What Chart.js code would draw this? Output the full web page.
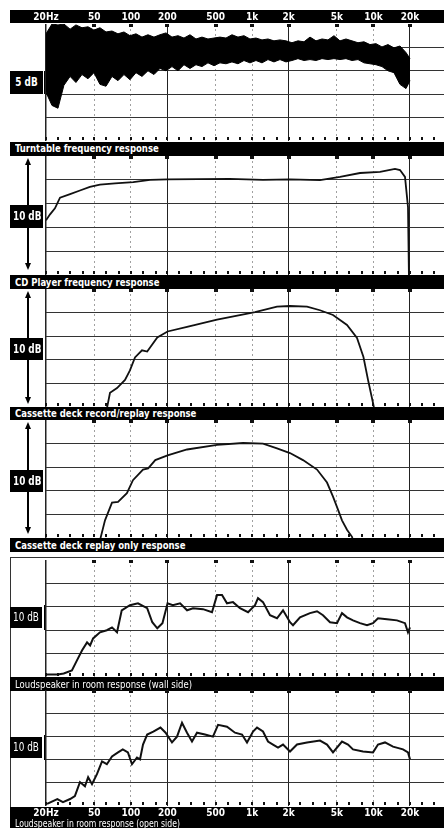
<!DOCTYPE html>
<html>
<head>
<meta charset="utf-8">
<script src="https://cdn.jsdelivr.net/npm/chart.js@4/dist/chart.umd.min.js"></script>
<style>
body { margin: 0; background: #fff; width: 444px; height: 828px; position: relative; overflow: hidden;
  font-family: "Liberation Sans Narrow", "DejaVu Sans Condensed", "DejaVu Sans", sans-serif; }
canvas { position: absolute; left: 0; z-index: 1; }
.bar { position: absolute; left: 10px; width: 434px; background: #000; z-index: 0; }
.cap { position: absolute; left: 15px; color: #fff; font-weight: bold; font-size: 11px; line-height: 13px; white-space: nowrap;
  z-index: 2; transform: scaleX(0.86); transform-origin: 0 0; }
.db { position: absolute; left: 10px; width: 33px; background: #000; z-index: 2; overflow: hidden; }
.db span { display: block; color: #fff; font-weight: bold; font-size: 12px; white-space: nowrap; text-align: center;
  transform: scaleX(0.82); }
.vl { position: absolute; left: 27px; width: 2px; background: #000; }
.up { position: absolute; left: 25px; width: 0; height: 0; border-left: 3px solid transparent; border-right: 3px solid transparent; border-bottom: 7px solid #000; }
.dn { position: absolute; left: 25px; width: 0; height: 0; border-left: 3px solid transparent; border-right: 3px solid transparent; border-top: 7px solid #000; }
.br { position: absolute; left: 44px; width: 1px; background: #000; }
.frame { position: absolute; left: 10px; top: 557px; width: 434px; height: 250px; border-top: 1px solid #333; border-left: 1px solid #333; }
</style>
</head>
<body>
<div class="bar" style="top:10px;height:13px"></div>
<div class="frame"></div>

<canvas id="p1" width="444" height="131" style="top:10px"></canvas>
<div class="bar" style="top:142px;height:14px"></div>
<div class="cap" style="top:142px">Turntable frequency response</div>

<canvas id="p2" width="444" height="119" style="top:156px"></canvas>
<div class="bar" style="top:275px;height:14px"></div>
<div class="cap" style="top:276px">CD Player frequency response</div>

<canvas id="p3" width="444" height="118" style="top:289px"></canvas>
<div class="bar" style="top:407px;height:13px"></div>
<div class="cap" style="top:407px">Cassette deck record/replay response</div>

<canvas id="p4" width="444" height="118" style="top:420px"></canvas>
<div class="bar" style="top:538px;height:14px"></div>
<div class="cap" style="top:539px">Cassette deck replay only response</div>

<canvas id="p5" width="444" height="117" style="top:560px"></canvas>
<div class="bar" style="top:677px;height:14px"></div>
<div class="cap" style="top:678px;font-weight:normal">Loudspeaker in room response (wall side)</div>

<canvas id="p6" width="444" height="130" style="top:690px"></canvas>
<div class="bar" style="top:807px;height:21px"></div>
<div class="cap" style="top:819px;font-weight:normal;font-size:10px;line-height:10px">Loudspeaker in room response (open side)</div>

<div class="db" style="top:71px;height:23px"><span style="line-height:23px">5 dB</span></div>
<div class="br" style="top:71px;height:23px"></div>

<div class="up" style="top:158px"></div><div class="vl" style="top:162px;height:43px"></div>
<div class="db" style="top:205px;height:23px"><span style="line-height:23px">10 dB</span></div>
<div class="vl" style="top:228px;height:36px"></div><div class="dn" style="top:263px"></div>

<div class="up" style="top:291px"></div><div class="vl" style="top:295px;height:43px"></div>
<div class="db" style="top:338px;height:22px"><span style="line-height:22px">10 dB</span></div>
<div class="vl" style="top:360px;height:38px"></div><div class="dn" style="top:397px"></div>

<div class="up" style="top:422px"></div><div class="vl" style="top:426px;height:44px"></div>
<div class="db" style="top:470px;height:22px"><span style="line-height:22px">10 dB</span></div>
<div class="vl" style="top:492px;height:36px"></div><div class="dn" style="top:527px"></div>

<div class="db" style="top:607px;height:21px;width:32px"><span style="line-height:21px;font-weight:normal">10 dB</span></div>
<div class="br" style="top:605px;height:25px"></div>
<div class="db" style="top:737px;height:21px;width:32px"><span style="line-height:21px;font-weight:normal">10 dB</span></div>
<div class="br" style="top:735px;height:25px"></div>

<script>
// frequency axis
const majorFreqs = [20, 50, 100, 200, 500, 1000, 2000, 5000, 10000, 20000];
const majorLabels = ["20Hz", "50", "100", "200", "500", "1k", "2k", "5k", "10k", "20k"];
const decadeFreqs = [20, 200, 2000, 20000];
const thirdOctave = [20, 25, 31.5, 40, 50, 63, 80, 100, 125, 160, 200, 250, 315, 400, 500, 630, 800,
  1000, 1250, 1600, 2000, 2500, 3150, 4000, 5000, 6300, 8000, 10000, 12500, 16000, 20000, 25000, 31500];

// turntable: upper and lower edge of the noisy trace (dB)
const ttFreq = [20, 22.4, 25.1, 28.1, 31.6, 35.3, 39.6, 44.4, 49.7, 55.7, 62.5, 70, 78.4, 87.9, 98.5, 110.4,
  123.7, 138.6, 155.3, 174.1, 195.1, 218.6, 245, 274.5, 307.6, 344.7, 386.3, 432.9, 485.1, 543.6, 609.2,
  682.7, 765, 857.3, 960.7, 1077, 1207, 1352, 1515, 1698, 1903, 2132, 2389, 2678, 3001, 3363, 3768, 4223,
  4733, 5303, 5943, 6660, 7464, 8364, 9373, 10504, 11771, 13190, 14782, 16565, 18564, 20037];
const ttHigh = [22.9, 25.0, 24.8, 25.0, 23.9, 24.8, 24.2, 24.4, 23.7, 24.2, 23.3, 23.5, 22.9, 23.3, 22.5, 22.9,
  22.2, 22.7, 22.2, 22.7, 23.1, 22.2, 22.5, 22.0, 22.7, 21.8, 22.2, 21.8, 22.0, 22.2, 22.0, 22.7, 22.2, 22.5,
  21.8, 22.0, 21.6, 21.8, 21.4, 21.6, 21.4, 21.0, 21.4, 21.2, 22.2, 21.4, 21.8, 21.6, 22.5, 21.4, 21.8, 21.4,
  21.0, 21.2, 20.6, 20.8, 20.1, 20.6, 19.9, 20.3, 18.9, 17.6];
const ttLow = [10.4, 7.6, 7.0, 11.9, 13.8, 12.5, 14.2, 13.3, 14.6, 12.1, 11.7, 13.8, 12.9, 14.2, 13.1, 14.6,
  13.8, 15.0, 14.2, 15.5, 15.0, 15.9, 15.0, 16.3, 15.5, 16.3, 15.9, 16.7, 16.1, 16.7, 16.5, 16.9, 16.5, 17.2,
  16.7, 17.2, 16.7, 17.4, 16.9, 17.4, 16.9, 17.2, 17.6, 17.2, 17.4, 17.2, 17.6, 17.4, 17.6, 17.4, 17.6, 17.2,
  17.4, 16.7, 16.5, 16.3, 15.9, 15.0, 14.6, 12.1, 11.2, 12.9];

// CD player (dB)
const cdFreq = [20, 21.6, 23.7, 26.1, 31.6, 38.1, 46, 55.7, 74.1, 104.8, 144, 201, 652, 1230, 2054, 3630,
  5308, 7758, 11340, 15070, 16570, 18220, 19290, 19660];
const cdLevel = [4.6, 5.1, 5.6, 6.5, 6.8, 7.1, 7.4, 7.6, 7.7, 7.8, 8.0, 8.04, 8.07, 8.0, 8.04, 7.98,
  8.24, 8.57, 8.66, 8.91, 8.82, 8.24, 5.7, -0.5];

// cassette record/replay (dB)
const crFreq = [62.5, 67.4, 77, 89.6, 98.4, 108.3, 123.7, 136.5, 165.4, 201, 291, 514, 1057, 1605, 2054,
  2836, 3630, 4646, 6060, 7327, 8280, 9030, 9928, 10312];
const crLevel = [-0.5, 1.2, 1.6, 2.3, 3.1, 4.2, 4.8, 4.7, 5.9, 6.4, 6.8, 7.4, 8.05, 8.5, 8.56,
  8.5, 8.2, 7.8, 6.95, 5.85, 4.24, 2.3, 0.34, -0.5];

// cassette replay only (dB)
const cpFreq = [55.7, 61.3, 70, 78.5, 92.9, 104.2, 126.1, 139.1, 159.2, 201, 291, 514, 842, 1230, 1605,
  2054, 2628, 3430, 4146, 4646, 5108, 5510, 6060, 6664, 6920];
const cpLevel = [-0.2, 1.5, 3.0, 3.05, 3.8, 4.9, 5.8, 5.9, 6.6, 7.0, 7.5, 7.9, 8.05, 8.0, 7.6,
  7.2, 6.6, 5.8, 4.7, 3.5, 2.4, 1.5, 0.7, 0.1, -0.5];

// loudspeaker, wall side (dB)
const wsFreq = [20, 25, 28, 32.7, 36, 39.7, 43.6, 46.2, 48.9, 55.7, 63.5, 70, 77, 84.2, 98.4, 114.6, 136.5,
  150.4, 165.4, 182.4, 201, 222, 255, 291, 326, 394, 467, 514, 565, 621, 696, 795, 926, 1057, 1119, 1230,
  1405, 1605, 1799, 2054, 2174, 2484, 3002, 3430, 3842, 4389, 5012, 5510, 6060, 6790, 7756, 8860, 9928,
  10916, 12950, 15656, 18218, 19288, 20037];
const wsLevel = [1.1, 1.1, 1.5, 2.8, 7.1, 11.4, 14.8, 13.5, 16.5, 19.1, 20.0, 21.2, 19.1, 28.5, 30.7, 31.5,
  29.4, 23.4, 20.8, 23.0, 31.5, 30.7, 31.5, 28.5, 29.4, 29.0, 27.7, 35.0, 35.0, 31.5, 32.0, 29.4, 27.7, 30.7,
  33.7, 32.0, 26.4, 25.1, 28.5, 23.4, 22.1, 25.5, 27.3, 28.1, 26.4, 23.4, 23.0, 27.3, 25.5, 24.2, 23.0, 22.1,
  23.0, 25.1, 24.7, 24.2, 23.0, 19.1, 21.2];

// loudspeaker, open side (dB)
const osFreq = [20.4, 24.8, 27.6, 31.6, 34.6, 38.1, 41.9, 44.5, 47.9, 52.6, 57.9, 63.5, 70, 78.5, 85.9, 94.7,
  102.3, 112.5, 119.1, 126.1, 136.5, 153.3, 175.6, 193.7, 218.6, 240.4, 264.4, 290.8, 319.6, 351.4, 409, 476,
  524, 621, 723, 826, 908, 1018, 1098, 1230, 1353, 1487, 1636, 1799, 2054, 2346, 2836, 3630, 4146, 4646,
  5510, 6176, 6790, 8210, 9928, 10916, 12466, 14510, 17544, 19288, 20037];
const osLevel = [0.9, 3.0, 1.7, 3.0, 4.3, 10.3, 8.5, 12.4, 9.4, 13.7, 19.2, 18.0, 21.4, 23.1, 24.4, 23.1,
  18.0, 20.9, 20.1, 26.5, 30.8, 32.1, 33.8, 31.6, 27.4, 29.9, 35.9, 31.6, 27.8, 31.6, 30.8, 29.9, 35.0, 34.2,
  31.6, 30.8, 27.4, 32.1, 33.8, 32.1, 27.8, 26.5, 25.2, 26.5, 23.5, 26.5, 27.4, 28.2, 26.5, 23.1, 27.8, 26.5,
  24.4, 23.5, 23.1, 26.5, 27.4, 25.6, 24.4, 23.1, 20.1];

const FONT = '"DejaVu Sans Condensed", "DejaVu Sans", sans-serif';

function pts(fs, vs) {
  return fs.map((f, i) => ({ x: f, y: vs[i] }));
}

// tick marks along the plot edges
const decor = {
  id: 'decor',
  beforeDatasetsDraw(chart) {
    const { ctx, chartArea: a } = chart;
    const x = chart.scales.x;
    ctx.save();
    ctx.fillStyle = '#111';
    thirdOctave.forEach(f => {
      const px = Math.round(x.getPixelForValue(f));
      ctx.fillRect(px - 1, a.bottom - 4, 2, 3);
    });
    majorFreqs.slice(1).forEach(f => {
      const px = Math.round(x.getPixelForValue(f));
      ctx.fillRect(px - 2, a.top, 4, 3);
    });
    ctx.restore();
  }
};

function panel(id, ymax, ystep, datasets, axisPos) {
  return new Chart(document.getElementById(id), {
    type: 'line',
    data: { datasets: datasets },
    options: {
      responsive: false,
      animation: false,
      events: [],
      layout: { padding: { left: 46, right: 0, top: 0, bottom: 0 } },
      plugins: { legend: { display: false }, tooltip: { enabled: false } },
      elements: { point: { radius: 0 }, line: { tension: 0, borderColor: '#111', borderWidth: 1.8 } },
      scales: {
        x: {
          type: 'logarithmic',
          min: 20,
          max: 38200,
          position: axisPos || 'bottom',
          afterBuildTicks: s => { s.ticks = majorFreqs.map(v => ({ value: v })); },
          ticks: {
            display: !!axisPos,
            color: '#fff',
            padding: 1,
            maxRotation: 0,
            autoSkip: false,
            font: { family: FONT, size: 10, weight: 'bold' },
            callback: (v, i) => majorLabels[i]
          },
          grid: {
            drawTicks: false,
            color: c => decadeFreqs.includes(c.tick.value) ? '#222' : '#a0a0a0',
            lineWidth: c => c.tick.value === 20 ? 1.5 : 1
          },
          border: { display: false, dash: c => decadeFreqs.includes(c.tick && c.tick.value) ? [] : [2, 3] }
        },
        y: {
          min: 0,
          max: ymax,
          ticks: { display: false, stepSize: ystep },
          grid: {
            drawTicks: false,
            color: c => (c.tick.value > 0 && c.tick.value < ymax) ? '#333' : 'rgba(0,0,0,0)'
          },
          border: { display: false }
        }
      }
    },
    plugins: [decor]
  });
}

panel('p1', 25, 5, [
  { data: pts(ttFreq, ttHigh), fill: '+1', backgroundColor: '#000', borderColor: '#000', borderWidth: 1 },
  { data: pts(ttFreq, ttLow), fill: false, borderColor: '#000', borderWidth: 1 }
], 'top');
panel('p2', 10, 2, [{ data: pts(cdFreq, cdLevel), fill: false }]);
panel('p3', 10, 2, [{ data: pts(crFreq, crLevel), fill: false }]);
panel('p4', 10, 2, [{ data: pts(cpFreq, cpLevel), fill: false }]);
panel('p5', 50, 10, [{ data: pts(wsFreq, wsLevel), fill: false, borderWidth: 2 }]);
panel('p6', 50, 10, [{ data: pts(osFreq, osLevel), fill: false, borderWidth: 2 }], 'bottom');
</script>
</body>
</html>
